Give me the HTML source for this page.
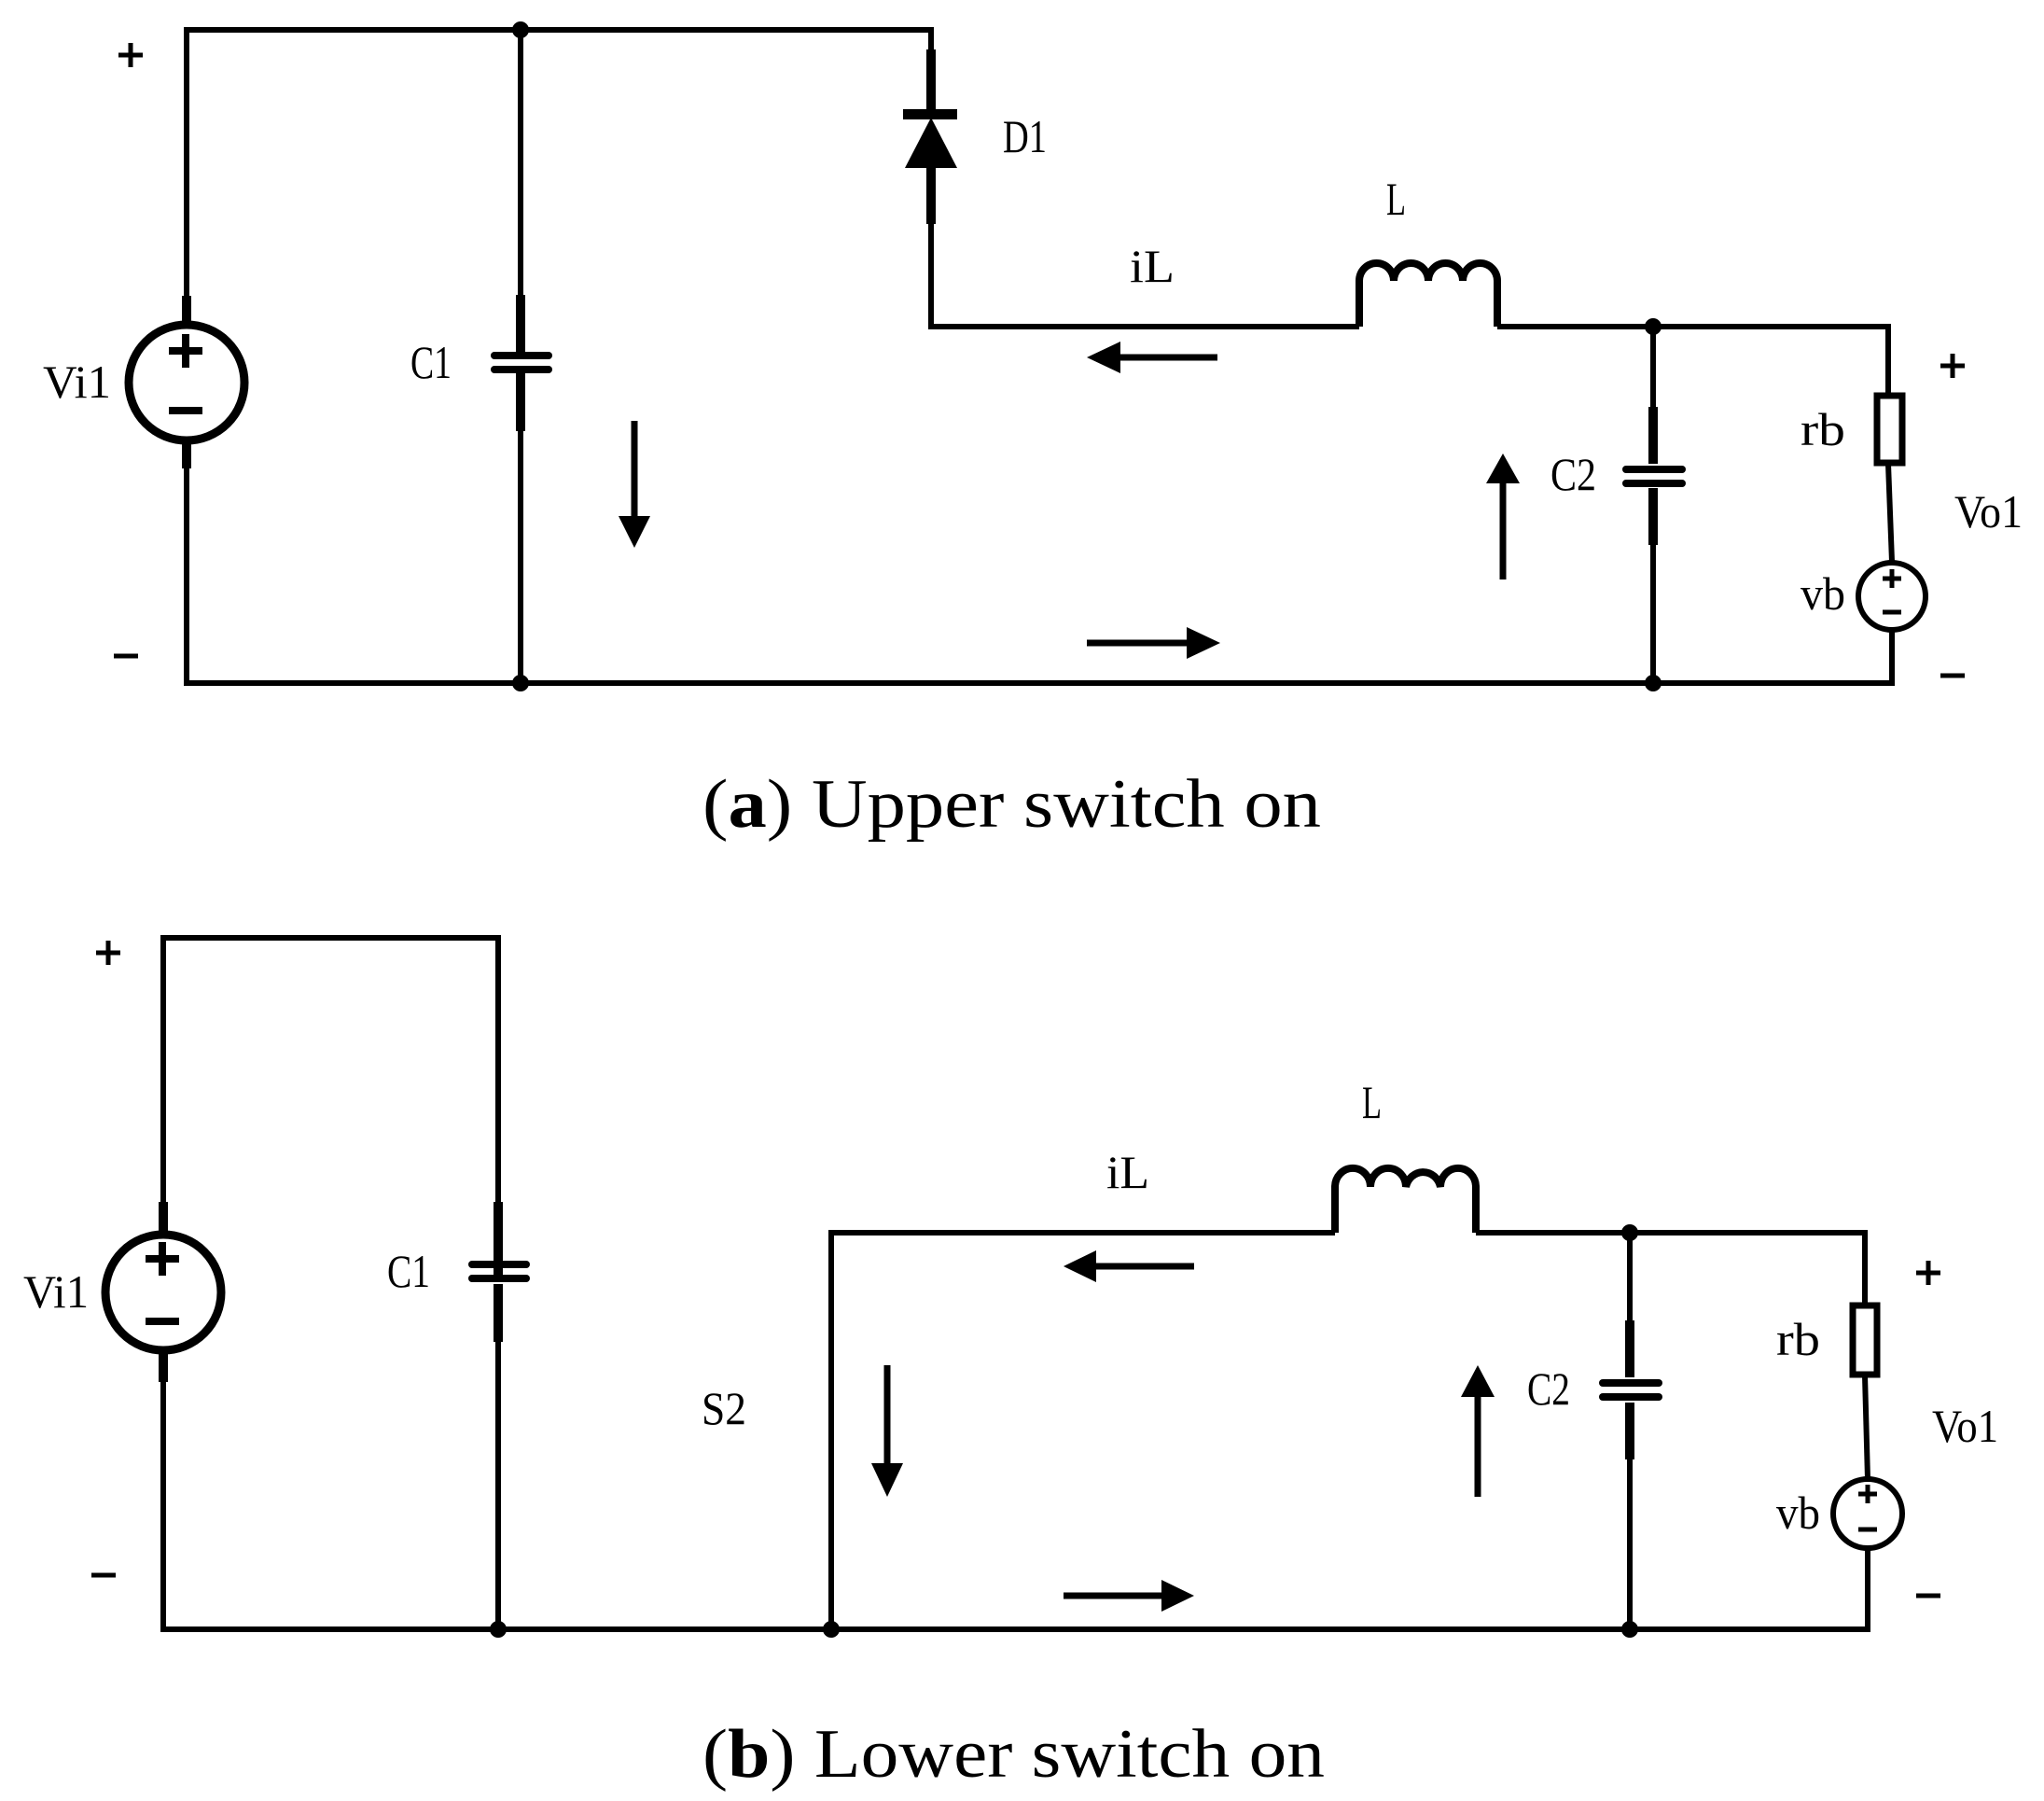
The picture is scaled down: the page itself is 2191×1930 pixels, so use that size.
<!DOCTYPE html>
<html><head><meta charset="utf-8"><style>html,body{margin:0;padding:0;background:#fff}svg{display:block}</style></head>
<body>
<svg width="2191" height="1930" viewBox="0 0 2191 1930" xmlns="http://www.w3.org/2000/svg">
<g fill="none" stroke="#000" stroke-width="6" stroke-linecap="butt">
<!-- ===== TOP CIRCUIT ===== -->
<!-- left loop -->
<polyline points="200,317 200,32 998,32 998,53"/>
<polyline points="200,502 200,732 2028,732 2028,676"/>
<line x1="558" y1="32" x2="558" y2="316"/>
<line x1="558" y1="462" x2="558" y2="732"/>
<!-- diode wire -->
<polyline points="998,240 998,350 1457,350"/>
<!-- inductor -->
<path d="M1457,350 V301 A18.5,19 0 0 1 1494,301 A18.5,19 0 0 1 1531,301 A18.5,19 0 0 1 1568,301 A18.5,19 0 0 1 1605,301 V350" stroke-width="8"/>
<polyline points="1605,350 2024,350 2024,423"/>
<line x1="2024" y1="497" x2="2028" y2="602"/>
<line x1="1772" y1="350" x2="1772" y2="436"/>
<line x1="1772" y1="584" x2="1772" y2="732"/>
<!-- thick leads -->
<g stroke-width="10">
<line x1="200" y1="317" x2="200" y2="348"/>
<line x1="200" y1="472" x2="200" y2="502"/>
<line x1="558" y1="316" x2="558" y2="377"/>
<line x1="558" y1="400" x2="558" y2="462"/>
<line x1="998" y1="53" x2="998" y2="122"/>
<line x1="998" y1="178" x2="998" y2="240"/>
<line x1="1772" y1="436" x2="1772" y2="497"/>
<line x1="1772" y1="523" x2="1772" y2="584"/>
</g>
<circle cx="200" cy="410" r="62" stroke-width="9"/>
<circle cx="2028" cy="639" r="36" stroke-width="6"/>
<rect x="2012" y="424" width="27" height="72" stroke-width="7"/>
<!-- cap plates -->
<g stroke-width="8" stroke-linecap="round">
<line x1="530" y1="381" x2="588" y2="381"/><line x1="530" y1="396" x2="588" y2="396"/>
<line x1="1743" y1="503" x2="1803" y2="503"/><line x1="1743" y1="518" x2="1803" y2="518"/>
</g>
<!-- source signs -->
<g stroke-width="8"><line x1="181" y1="376" x2="217" y2="376"/><line x1="199" y1="358" x2="199" y2="394"/><line x1="181" y1="440" x2="217" y2="440"/></g>
<g stroke-width="5"><line x1="2018" y1="620" x2="2038" y2="620"/><line x1="2028" y1="610" x2="2028" y2="630"/><line x1="2018" y1="656" x2="2038" y2="656"/></g>
<!-- +/- labels -->
<g stroke-width="5"><line x1="127" y1="59" x2="153" y2="59"/><line x1="140" y1="46" x2="140" y2="72"/><line x1="122" y1="703" x2="148" y2="703"/>
<line x1="2080" y1="392" x2="2106" y2="392"/><line x1="2093" y1="379" x2="2093" y2="405"/><line x1="2080" y1="724" x2="2106" y2="724"/></g>
<!-- arrow shafts -->
<g stroke-width="7">
<line x1="680" y1="451" x2="680" y2="556"/>
<line x1="1198" y1="383" x2="1305" y2="383"/>
<line x1="1165" y1="689" x2="1272" y2="689"/>
<line x1="1611" y1="515" x2="1611" y2="621"/>
</g>

<!-- ===== BOTTOM CIRCUIT ===== -->
<polyline points="175,1288 175,1005 534,1005 534,1288"/>
<polyline points="175,1481 175,1746 2002,1746 2002,1659"/>
<line x1="534" y1="1438" x2="534" y2="1746"/>
<polyline points="891,1746 891,1321 1431,1321"/>
<path d="M1431,1321 V1272 A18.9,20 0 0 1 1469,1272 A18.9,20 0 0 1 1507,1272 A18.9,20 0 0 1 1544,1272 A18.9,20 0 0 1 1582,1272 V1321" stroke-width="8"/>
<polyline points="1582,1321 1999,1321 1999,1398"/>
<line x1="1999" y1="1474" x2="2002" y2="1585"/>
<line x1="1747" y1="1321" x2="1747" y2="1415"/>
<line x1="1747" y1="1564" x2="1747" y2="1746"/>
<g stroke-width="10">
<line x1="175" y1="1288" x2="175" y2="1322"/>
<line x1="175" y1="1447" x2="175" y2="1481"/>
<line x1="534" y1="1288" x2="534" y2="1369"/>
<line x1="534" y1="1376" x2="534" y2="1438"/>
<line x1="1747" y1="1415" x2="1747" y2="1476"/>
<line x1="1747" y1="1503" x2="1747" y2="1564"/>
</g>
<circle cx="175" cy="1385" r="62" stroke-width="9"/>
<circle cx="2002" cy="1622" r="37" stroke-width="6"/>
<rect x="1986" y="1399" width="26" height="74" stroke-width="7"/>
<g stroke-width="8" stroke-linecap="round">
<line x1="506" y1="1355" x2="564" y2="1355"/><line x1="506" y1="1370" x2="564" y2="1370"/>
<line x1="1718" y1="1482" x2="1778" y2="1482"/><line x1="1718" y1="1497" x2="1778" y2="1497"/>
</g>
<g stroke-width="8"><line x1="156" y1="1349" x2="192" y2="1349"/><line x1="174" y1="1331" x2="174" y2="1367"/><line x1="156" y1="1416" x2="192" y2="1416"/></g>
<g stroke-width="5"><line x1="1992" y1="1601" x2="2012" y2="1601"/><line x1="2002" y1="1591" x2="2002" y2="1611"/><line x1="1992" y1="1639" x2="2012" y2="1639"/></g>
<g stroke-width="5"><line x1="103" y1="1021" x2="129" y2="1021"/><line x1="116" y1="1008" x2="116" y2="1034"/><line x1="98" y1="1688" x2="124" y2="1688"/>
<line x1="2054" y1="1364" x2="2080" y2="1364"/><line x1="2067" y1="1351" x2="2067" y2="1377"/><line x1="2054" y1="1710" x2="2080" y2="1710"/></g>
<g stroke-width="7">
<line x1="951" y1="1463" x2="951" y2="1572"/>
<line x1="1172" y1="1357" x2="1280" y2="1357"/>
<line x1="1140" y1="1710" x2="1248" y2="1710"/>
<line x1="1584" y1="1494" x2="1584" y2="1604"/>
</g>
</g>

<g fill="#000" stroke="none">
<!-- diode -->
<rect x="968" y="117" width="58" height="11"/>
<polygon points="998,126 970,180 1026,180"/>
<!-- junction dots -->
<circle cx="558" cy="32" r="9"/><circle cx="558" cy="732" r="9"/>
<circle cx="1772" cy="350" r="9"/><circle cx="1772" cy="732" r="9"/>
<circle cx="534" cy="1746" r="9"/><circle cx="891" cy="1746" r="9"/>
<circle cx="1747" cy="1321" r="9"/><circle cx="1747" cy="1746" r="9"/>
<!-- arrowheads top -->
<polygon points="680,587 663,553 697,553"/>
<polygon points="1165,383 1201,366 1201,400"/>
<polygon points="1308,689 1272,672 1272,706"/>
<polygon points="1611,486 1593,518 1629,518"/>
<!-- arrowheads bottom -->
<polygon points="951,1604 934,1568 968,1568"/>
<polygon points="1140,1357 1175,1340 1175,1374"/>
<polygon points="1280,1710 1245,1693 1245,1727"/>
<polygon points="1584,1463 1566,1497 1602,1497"/>
</g>

<g font-family="Liberation Serif, serif" font-size="50" fill="#000" lengthAdjust="spacingAndGlyphs">
<text x="46" y="426" textLength="73" lengthAdjust="spacingAndGlyphs">Vi1</text>
<text x="440" y="405" textLength="44" lengthAdjust="spacingAndGlyphs">C1</text>
<text x="1075" y="163" textLength="47" lengthAdjust="spacingAndGlyphs">D1</text>
<text x="1486" y="230" textLength="21" lengthAdjust="spacingAndGlyphs">L</text>
<text x="1211" y="302" textLength="48" lengthAdjust="spacingAndGlyphs">iL</text>
<text x="1662" y="525" textLength="49" lengthAdjust="spacingAndGlyphs">C2</text>
<text x="1930" y="477" textLength="48" lengthAdjust="spacingAndGlyphs">rb</text>
<text x="1930" y="653" textLength="48" lengthAdjust="spacingAndGlyphs">vb</text>
<text x="2095" y="565" textLength="73" lengthAdjust="spacingAndGlyphs">Vo1</text>

<text x="25" y="1401" textLength="70" lengthAdjust="spacingAndGlyphs">Vi1</text>
<text x="415" y="1379" textLength="46" lengthAdjust="spacingAndGlyphs">C1</text>
<text x="752" y="1526" textLength="48" lengthAdjust="spacingAndGlyphs">S2</text>
<text x="1460" y="1198" textLength="21" lengthAdjust="spacingAndGlyphs">L</text>
<text x="1186" y="1273" textLength="46" lengthAdjust="spacingAndGlyphs">iL</text>
<text x="1637" y="1505" textLength="46" lengthAdjust="spacingAndGlyphs">C2</text>
<text x="1904" y="1452" textLength="47" lengthAdjust="spacingAndGlyphs">rb</text>
<text x="1904" y="1638" textLength="47" lengthAdjust="spacingAndGlyphs">vb</text>
<text x="2071" y="1545" textLength="71" lengthAdjust="spacingAndGlyphs">Vo1</text>
</g>

<g font-family="Liberation Serif, serif" font-size="74" fill="#000">
<text x="753" y="886" textLength="663" lengthAdjust="spacingAndGlyphs">(<tspan font-weight="bold">a</tspan>) Upper switch on</text>
<text x="753" y="1904" textLength="667" lengthAdjust="spacingAndGlyphs">(<tspan font-weight="bold">b</tspan>) Lower switch on</text>
</g>
</svg>
</body></html>
